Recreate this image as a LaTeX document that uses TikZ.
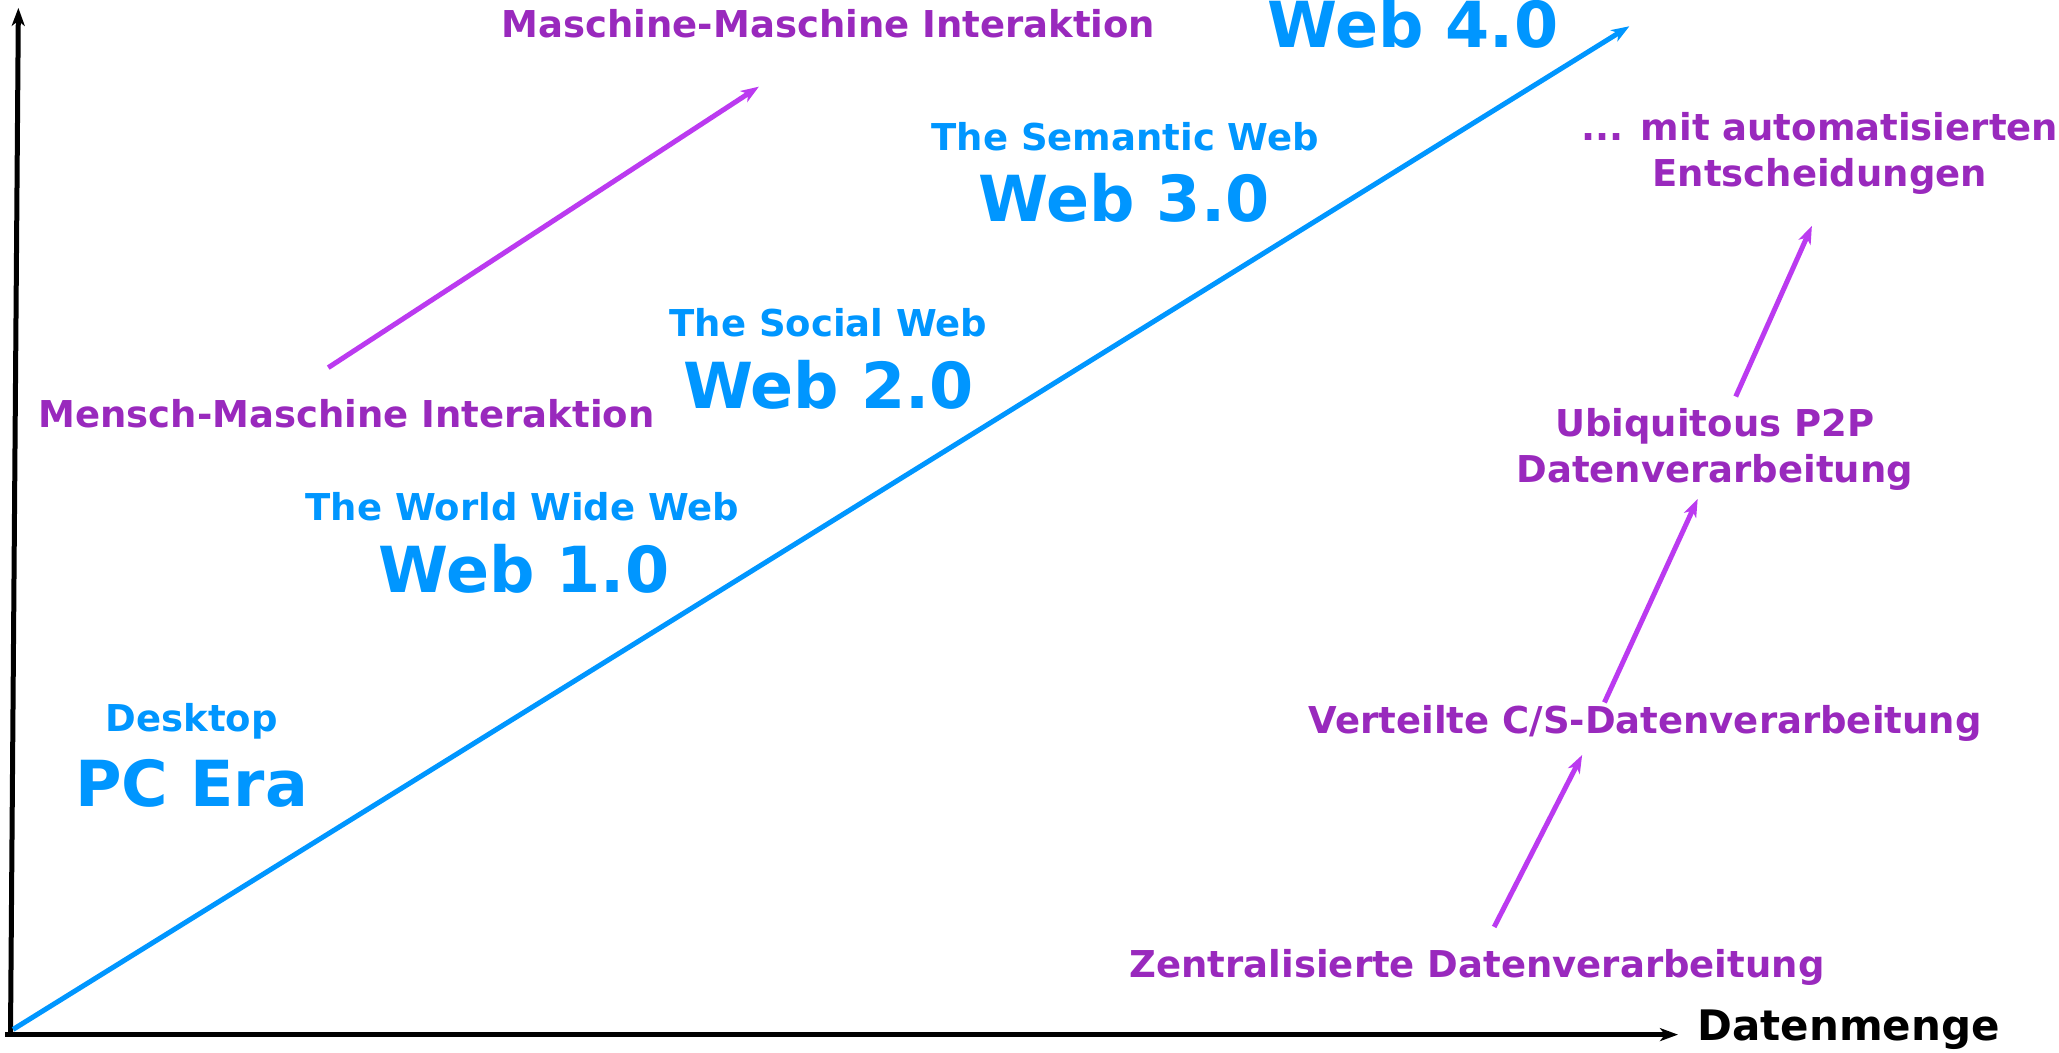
\documentclass[tikz,border=0pt]{standalone}
\usepackage{fontspec}
\setmainfont{DejaVu Sans}
\usetikzlibrary{arrows.meta}
\definecolor{webblue}{RGB}{0,150,255}
\definecolor{txtpurple}{RGB}{153,41,189}
\definecolor{arrpurple}{RGB}{187,58,240}
\begin{document}
\begin{tikzpicture}[x=1.313pt,y=-1.313pt,
  lbl/.style={font=\fontsize{37}{46}\selectfont\bfseries, inner sep=0pt, align=center},
  big/.style={font=\fontsize{63.5}{70}\selectfont\bfseries, inner sep=0pt, text=webblue},
  bluelbl/.style={lbl, text=webblue},
  purplelbl/.style={lbl, text=txtpurple},
  axis/.style={line width=5pt, black, -{Stealth[length=18pt,width=13pt,inset=5pt]}},
  bluearrow/.style={line width=5pt, webblue, -{Stealth[length=18pt,width=13pt,inset=5pt]}},
  purplearrow/.style={line width=5pt, arrpurple, -{Stealth[length=18pt,width=13pt,inset=5pt]}}]
\useasboundingbox (0,0) rectangle (1568.2,802);

% axes
\coordinate (o) at (8,788);
\coordinate (ytop) at (14,6);
\coordinate (xo) at (4,788);
\coordinate (xend) at (1278,788);
\draw[axis] (o) -- (ytop);
\draw[axis] (xo) -- (xend);

% blue main arrow
\coordinate (bstart) at (10,784);
\coordinate (bend) at (1241,20);
\draw[bluearrow] (bstart) -- (bend);

% blue labels
\node[bluelbl] (desk) at (146,549) {Desktop};
\node[big] (pc) at (146,597) {PC Era};
\node[bluelbl] (www) at (398,386) {The World Wide Web};
\node[big] (web1) at (399,433) {Web 1.0};
\node[bluelbl] (soc) at (631,246) {The Social Web};
\node[big] (web2) at (631,293) {Web 2.0};
\node[bluelbl] (sem) at (857,104) {The Semantic Web};
\node[big] (web3) at (856,151) {Web 3.0};
\node[big] (web4) at (1076,18) {Web 4.0};

% purple labels
\node[purplelbl] (mm) at (631,18) {Maschine-Maschine Interaktion};
\node[purplelbl] (men) at (264,315) {Mensch-Maschine Interaktion};
\node[purplelbl] (auto) at (1386,117) {... mit automatisierten\\Entscheidungen};
\node[purplelbl] (ubi) at (1306,342) {Ubiquitous P2P\\Datenverarbeitung};
\node[purplelbl] (vert) at (1253,551) {Verteilte C/S-Datenverarbeitung};
\node[purplelbl] (zent) at (1125,737) {Zentralisierte Datenverarbeitung};
\node[lbl, font=\fontsize{42}{50}\selectfont\bfseries, text=black] (datm) at (1408,784) {Datenmenge};

% purple arrows
\coordinate (a1s) at (250,280); \coordinate (a1e) at (578,66);
\coordinate (a2s) at (1138,706); \coordinate (a2e) at (1205,575);
\coordinate (a3s) at (1222,535); \coordinate (a3e) at (1293,380);
\coordinate (a4s) at (1322,302); \coordinate (a4e) at (1380,172);
\draw[purplearrow] (a1s) -- (a1e);
\draw[purplearrow] (a2s) -- (a2e);
\draw[purplearrow] (a3s) -- (a3e);
\draw[purplearrow] (a4s) -- (a4e);
\end{tikzpicture}
\end{document}
